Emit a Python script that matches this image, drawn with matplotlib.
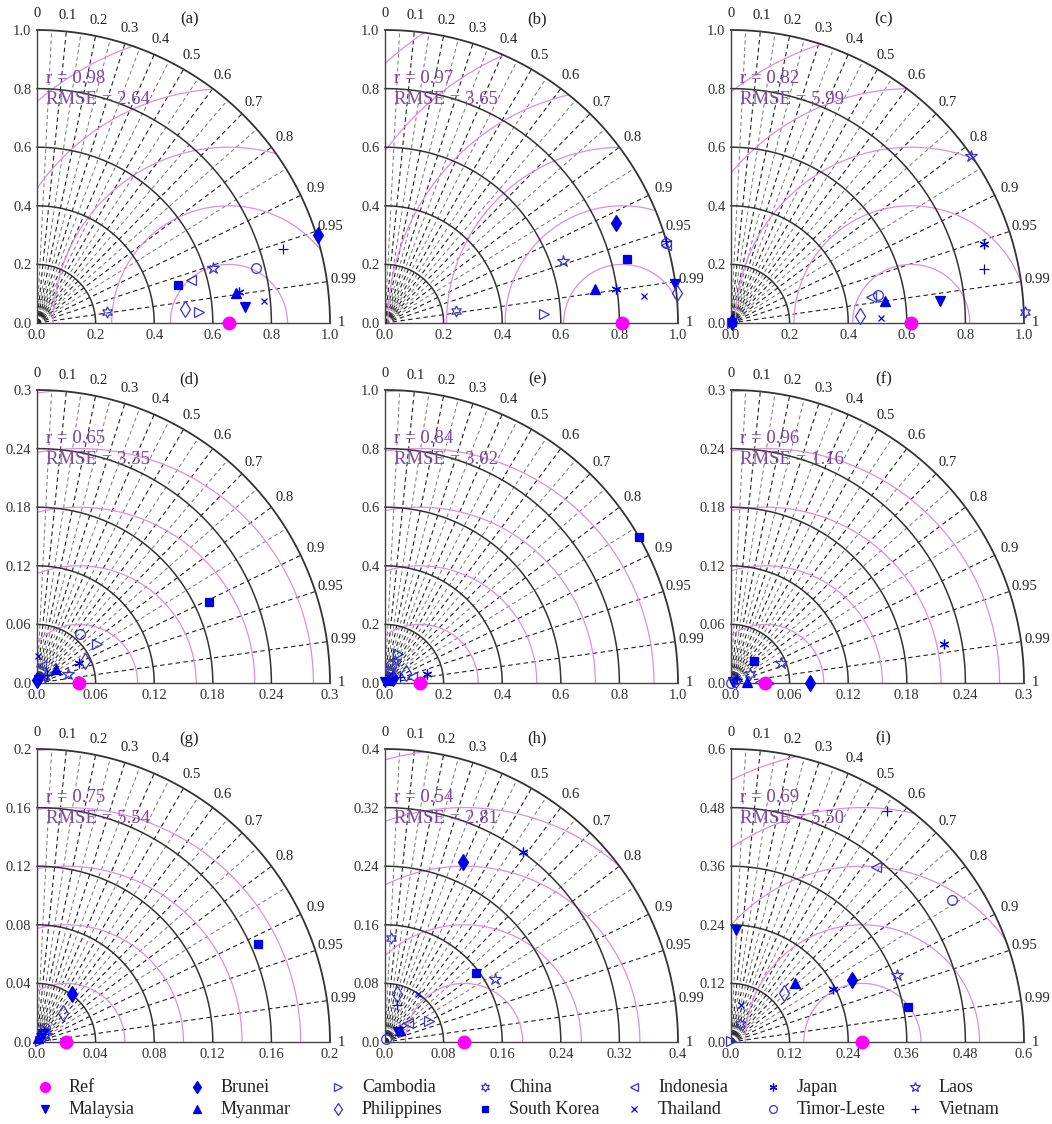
import numpy as np
import matplotlib.pyplot as plt
from matplotlib.lines import Line2D

plt.rcParams['font.family'] = ['Liberation Serif', 'DejaVu Serif']

# 国家顺序
countries = ['Brunei', 'Cambodia', 'China', 'Indonesia', 'Japan', 'Laos', 'Malaysia',
             'Myanmar', 'Philippines', 'South Korea', 'Thailand', 'Timor-Leste', 'Vietnam']

tags = ['(a)', '(b)', '(c)', '(d)', '(e)', '(f)', '(g)', '(h)', '(i)']
std_max = [1.0, 1.0, 1.0, 0.3, 1.0, 0.3, 0.2, 0.4, 0.6]
std_step = [0.2, 0.2, 0.2, 0.06, 0.2, 0.06, 0.04, 0.08, 0.12]
ref_std = [0.655, 0.81, 0.615, 0.043, 0.118, 0.035, 0.02, 0.108, 0.269]
r_text = ['0.98', '0.97', '0.82', '0.65', '0.84', '0.96', '0.75', '0.54', '0.69']
rmse_text = ['2.64', '3.65', '5.99', '3.35', '3.02', '1.16', '5.54', '2.81', '5.50']

labels_10 = ['0.0', '0.2', '0.4', '0.6', '0.8', '1.0']
labels_03 = ['0.0', '0.06', '0.12', '0.18', '0.24', '0.3']
labels_02 = ['0.0', '0.04', '0.08', '0.12', '0.16', '0.2']
labels_04 = ['0.0', '0.08', '0.16', '0.24', '0.32', '0.4']
labels_06 = ['0.0', '0.12', '0.24', '0.36', '0.48', '0.6']
tick_labels = [labels_10, labels_10, labels_10, labels_03, labels_10,
               labels_03, labels_02, labels_04, labels_06]

corr_major = [0.1, 0.2, 0.3, 0.4, 0.5, 0.6, 0.7, 0.8, 0.9, 0.95, 0.99]
corr_minor = [0.05, 0.15, 0.25, 0.35, 0.45, 0.55, 0.65, 0.75, 0.85]
corr_labels = ['0', '0.1', '0.2', '0.3', '0.4', '0.5', '0.6', '0.7', '0.8',
               '0.9', '0.95', '0.99', '1']
corr_label_vals = [0, 0.1, 0.2, 0.3, 0.4, 0.5, 0.6, 0.7, 0.8, 0.9, 0.95, 0.99, 1]

# 每个面板中各国的点 (x, y)，顺序同 countries
pts_a = [(0.96, 0.30), (0.553, 0.036), (0.24, 0.038), (0.525, 0.147), (0.69, 0.107),
         (0.601, 0.188), (0.71, 0.056), (0.678, 0.102), (0.506, 0.049), (0.481, 0.129),
         (0.775, 0.076), (0.747, 0.188), (0.838, 0.253)]
pts_b = [(0.789, 0.341), (0.544, 0.032), (0.243, 0.041), (0.96, 0.265), (0.79, 0.115),
         (0.606, 0.21), (0.99, 0.132), (0.718, 0.115), (0.997, 0.104), (0.826, 0.22),
         (0.883, 0.092), (0.959, 0.274), (0.958, 0.28)]
pts_c = [(0.003, 0.002), (0.005, 0.001), (1.003, 0.039), (0.479, 0.088), (0.864, 0.27),
         (0.82, 0.57), (0.715, 0.076), (0.527, 0.076), (0.441, 0.025), (0.002, 0.002),
         (0.513, 0.017), (0.50, 0.094), (0.864, 0.185)]
pts_d = [(0.0, 0.003), (0.061, 0.04), (0.008, 0.006), (0.004, 0.017), (0.043, 0.02),
         (0.032, 0.0096), (0.002, 0.0034), (0.019, 0.014), (0.049, 0.023), (0.176, 0.083),
         (0.0007, 0.028), (0.044, 0.05), (0.01, 0.008)]
pts_e = [(0.029, 0.017), (0.046, 0.098), (0.017, 0.038), (0.091, 0.021), (0.144, 0.032),
         (0.035, 0.075), (0.0, 0.003), (0.009, 0.009), (0.071, 0.034), (0.868, 0.498),
         (0.01, 0.02), (0.02, 0.06), (0.05, 0.02)]
pts_f = [(0.081, 0.0), (0.039, 0.0), (0.019, 0.0096), (0.03, 0.001), (0.218, 0.040),
         (0.051, 0.02), (0.002, 0.001), (0.016, 0.001), (0.005, 0.003), (0.024, 0.023),
         (0.004, 0.002), (0.0, 0.0), (0.006, 0.004)]
pts_g = [(0.0239, 0.0325), (0.002, 0.001), (0.003, 0.004), (0.004, 0.006), (0.005, 0.007),
         (0.006, 0.005), (0.004, 0.0052), (0.001, 0.003), (0.018, 0.020), (0.151, 0.0666),
         (0.002, 0.002), (0.0052, 0.0098), (0.003, 0.006)]
pts_h = [(0.106, 0.246), (0.06, 0.0286), (0.008, 0.142), (0.032, 0.026), (0.188, 0.259),
         (0.15, 0.0855), (0.018, 0.014), (0.02, 0.016), (0.016, 0.065), (0.124, 0.0945),
         (0.045, 0.065), (0.002, 0.0045), (0.016, 0.051)]
pts_i = [(0.247, 0.126), (0.0, 0.002), (0.019, 0.036), (0.297, 0.359), (0.209, 0.109),
         (0.34, 0.138), (0.01, 0.23), (0.132, 0.12), (0.108, 0.1), (0.363, 0.072),
         (0.02, 0.075), (0.453, 0.29), (0.32, 0.474)]
all_pts = [pts_a, pts_b, pts_c, pts_d, pts_e, pts_f, pts_g, pts_h, pts_i]

blue = '#0000e6'
blue_open = '#3535d5'
pink = '#dd8ee0'
magenta = '#ff00ff'
purple = '#7f46a8'

# 标记样式: (marker, 实心?, 大小)
styles = {
    'Brunei': ('d', True, 8),
    'Cambodia': ('>', False, 7),
    'China': ((6, 1, 0), False, 8),
    'Indonesia': ('<', False, 7),
    'Japan': ((6, 2, 0), True, 7),
    'Laos': ('*', False, 9),
    'Malaysia': ('v', True, 7),
    'Myanmar': ('^', True, 7),
    'Philippines': ('d', False, 8),
    'South Korea': ('s', True, 6),
    'Thailand': ('x', True, 5),
    'Timor-Leste': ('o', False, 7),
    'Vietnam': ('+', True, 7),
}


def mk_kw(name, scale=1.0):
    m, filled, ms = styles[name]
    kw = dict(marker=m, markersize=ms * scale, linestyle='none', markeredgewidth=0.9)
    if filled:
        kw.update(markerfacecolor=blue, markeredgecolor=blue)
    else:
        kw.update(markerfacecolor='none', markeredgecolor=blue_open)
    return kw


def taylor(ax, smax, step, ref, pts, rv, rmse, tag, tlabels):
    ax.set_xlim(0, smax)
    ax.set_ylim(0, smax)
    ax.set_aspect('equal')
    for s in ['top', 'right']:
        ax.spines[s].set_visible(False)
    for s in ['left', 'bottom']:
        ax.spines[s].set_color('#444444')
        ax.spines[s].set_linewidth(1.0)
    ticks = np.arange(6) * step
    ax.set_xticks(ticks)
    ax.set_xticklabels(tlabels)
    ax.set_yticks(ticks)
    ax.set_yticklabels(tlabels)
    ax.tick_params(length=0, labelsize=10.5, pad=4, colors='#333333')

    th = np.linspace(0, np.pi / 2, 300)
    # 标准差圆弧
    k = 1
    while k * step <= smax + 1e-9:
        s = k * step
        outer = abs(s - smax) < 1e-9
        ax.plot(s * np.cos(th), s * np.sin(th), color='#333333',
                lw=1.3 if outer else 1.1, zorder=2, clip_on=False)
        k += 1
    # 相关系数射线
    for c in corr_minor:
        a = np.arccos(c)
        ax.plot([0, smax * np.cos(a)], [0, smax * np.sin(a)], color='#777777',
                lw=0.7, ls=(0, (4, 3)), zorder=1)
    for c in corr_major:
        a = np.arccos(c)
        ax.plot([0, smax * np.cos(a)], [0, smax * np.sin(a)], color='#222222',
                lw=0.8, ls=(0, (4, 3)), zorder=1)
    for lab, c in zip(corr_labels, corr_label_vals):
        a = np.arccos(c)
        rr = 1.055 if c < 1 else 1.04
        ax.text(rr * smax * np.cos(a), rr * smax * np.sin(a), lab, ha='center',
                va='center', fontsize=10.5, color='#222222')
    # RMSE 圆
    t = np.linspace(0, np.pi, 600)
    for k in range(1, 14):
        R = k * step
        x = ref + R * np.cos(t)
        y = R * np.sin(t)
        ok = (np.hypot(x, y) <= smax * 1.0005) & (x >= 0)
        ax.plot(np.where(ok, x, np.nan), np.where(ok, y, np.nan), color=pink,
                lw=0.9, zorder=1.5)
    # 数据点
    for name, (px, py) in zip(countries, pts):
        ax.plot([px], [py], clip_on=False, zorder=5, **mk_kw(name))
    ax.plot([ref], [0], marker='o', ms=9, color=magenta, linestyle='none',
            clip_on=False, zorder=6)

    ax.text(0.52 * smax, 1.035 * smax, tag, ha='center', va='center', fontsize=12,
            color='#222222')
    ax.text(0.03 * smax, 0.835 * smax, 'r = ' + rv, ha='left', va='center',
            fontsize=13.5, color=purple)
    ax.text(0.03 * smax, 0.762 * smax, 'RMSE = ' + rmse, ha='left', va='center',
            fontsize=13.5, color=purple)


W, H = 1052, 1124
fig = plt.figure(figsize=(W / 100, H / 100), dpi=100)
col_left = [37, 385, 731]
row_top = [30, 390, 749]
side = 293

for i in range(9):
    r, c = divmod(i, 3)
    ax = fig.add_axes([col_left[c] / W, 1 - (row_top[r] + side) / H, side / W, side / H])
    taylor(ax, std_max[i], std_step[i], ref_std[i], all_pts[i], r_text[i],
           rmse_text[i], tags[i], tick_labels[i])

# 图例
legend_names = ['Ref', 'Brunei', 'Cambodia', 'China', 'Indonesia', 'Japan', 'Laos',
                'Malaysia', 'Myanmar', 'Philippines', 'South Korea', 'Thailand',
                'Timor-Leste', 'Vietnam']
legend_x = [45, 197, 338, 485, 634, 773, 915]
legend_y = [1087, 1109]
for j, name in enumerate(legend_names):
    row, col = divmod(j, 7)
    xm = legend_x[col] / W
    ym = 1 - legend_y[row] / H
    if name == 'Ref':
        kw = dict(marker='o', markersize=7, color=magenta, linestyle='none')
    else:
        kw = mk_kw(name, 0.8)
    fig.add_artist(Line2D([xm], [ym], transform=fig.transFigure, **kw))
    fig.text(xm + 24 / W, ym, name, ha='left', va='center', fontsize=13,
             color='#222222')

fig.savefig('out.png', dpi=100)
